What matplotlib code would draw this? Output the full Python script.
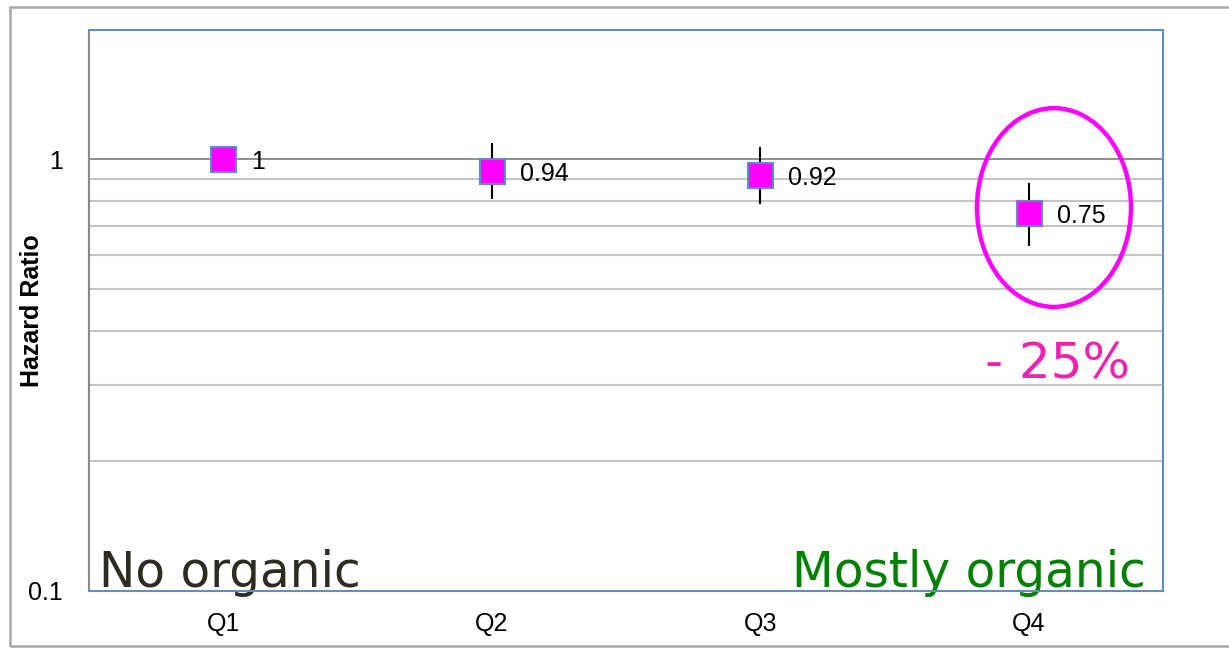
import numpy as np
import matplotlib.pyplot as plt
from matplotlib.patches import Ellipse, Rectangle

# Hazard ratios by quartile of organic food consumption
quartiles = ['Q1', 'Q2', 'Q3', 'Q4']
hazard_ratio = [1.0, 0.94, 0.92, 0.75]
ci_lower = [1.0, 0.81, 0.79, 0.63]
ci_upper = [1.0, 1.09, 1.07, 0.88]
value_labels = ['1', '0.94', '0.92', '0.75']
minor_grid = [0.2, 0.3, 0.4, 0.5, 0.6, 0.7, 0.8, 0.9]

plt.rcParams['font.family'] = ['Liberation Sans', 'DejaVu Sans']

fig = plt.figure(figsize=(12.29, 6.49), dpi=100)
ax = fig.add_axes([0.0724, 0.0894, 0.8739, 0.8651])

x = np.arange(len(quartiles))
hr = np.array(hazard_ratio)
yerr = [hr - np.array(ci_lower), np.array(ci_upper) - hr]

ax.errorbar(x, hr, yerr=yerr, fmt='none', ecolor='black', elinewidth=1.5,
            capsize=0, zorder=3)
ax.plot(x, hr, 's', markersize=18, markerfacecolor='#ff00ff',
        markeredgecolor='#5b8bc9', markeredgewidth=1.5, linestyle='none', zorder=4)

for xi, yi, lab in zip(x, hr, value_labels):
    ax.annotate(lab, (xi, yi), xytext=(20, -2), textcoords='offset points',
                ha='left', va='center', fontsize=18, color='black', zorder=5)

ax.set_yscale('log')
ax.set_ylim(0.1, 2)
ax.set_xlim(-0.5, len(quartiles) - 0.5)

ax.set_yticks([0.1, 1])
ax.set_yticklabels(['0.1', '1'])
ax.set_yticks(minor_grid, minor=True)
ax.set_yticklabels([], minor=True)
ax.set_xticks(x)
ax.set_xticklabels(quartiles)

ax.tick_params(axis='both', which='both', length=0, labelsize=18)
ax.tick_params(axis='y', pad=19)
ax.tick_params(axis='x', pad=15)

ax.grid(True, axis='y', which='major', color='#858585', linewidth=1.3)
ax.grid(True, axis='y', which='minor', color='#c4c4c4', linewidth=1.5)
ax.set_axisbelow(True)

ax.spines['left'].set_color('#8a8a8a')
for side in ['top', 'right', 'bottom']:
    ax.spines[side].set_color('#5f8dc8')
for side in ax.spines:
    ax.spines[side].set_linewidth(1.5)
    ax.spines[side].set_zorder(6)

fig.text(32 / 1229, 0.521, 'Hazard Ratio', rotation=90, ha='center', va='center',
         fontsize=18, fontweight='bold')

# Highlight the top quartile
ax.add_patch(Ellipse((0.8985, 0.683), 0.1434, 0.354, transform=ax.transAxes,
                     fill=False, edgecolor='#ff00ff', linewidth=3.2, zorder=5))
ax.text(0.902, 0.404, '- 25%', transform=ax.transAxes, ha='center', va='center',
        fontsize=36, color='#f020b0', family='DejaVu Sans')

ax.text(0.009, 0.007, 'No organic', transform=ax.transAxes, ha='left',
        va='baseline', fontsize=35, color='#2e2b22', family='DejaVu Sans')
ax.text(0.984, 0.007, 'Mostly organic', transform=ax.transAxes, ha='right',
        va='baseline', fontsize=35, color='#008000', family='DejaVu Sans')

# Frame around the whole chart
fig.patches.append(Rectangle((10 / 1229, 3 / 649), 1.05, 639 / 649,
                             transform=fig.transFigure, fill=False,
                             edgecolor='#a6a6a6', linewidth=1.8))

fig.savefig('out.png', dpi=100)
